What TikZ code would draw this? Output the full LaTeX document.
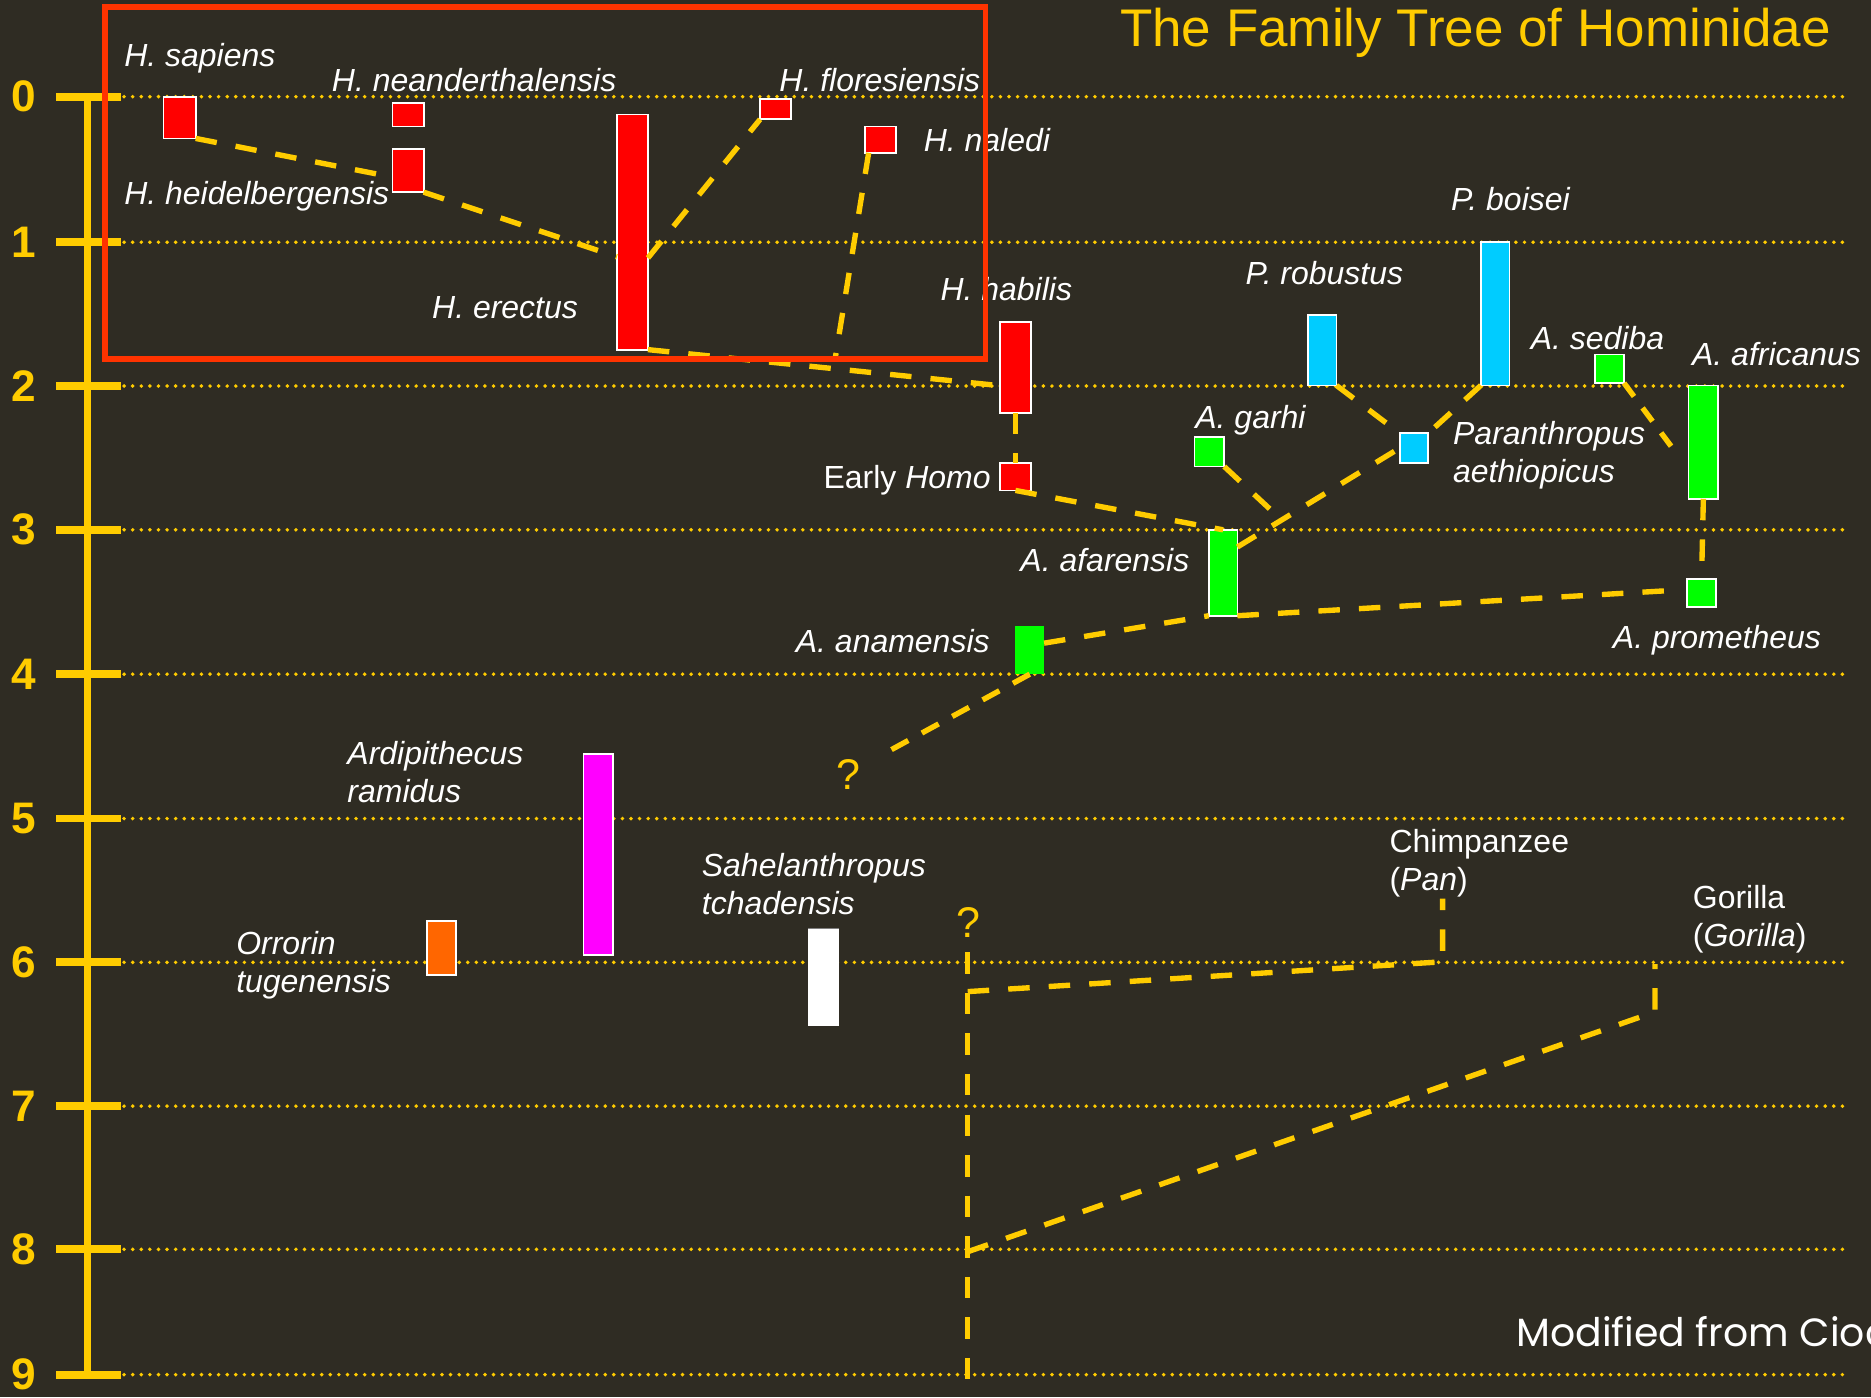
\documentclass[tikz,border=0pt]{standalone}
\usepackage{fontspec}
\setmainfont{Liberation Sans}
\newfontfamily\poppins{Poppins}
\usetikzlibrary{calc}
\definecolor{bg}{RGB}{47,44,35}
\definecolor{hyellow}{RGB}{255,204,0}
\definecolor{hred}{RGB}{255,0,0}
\definecolor{boxred}{RGB}{255,51,0}
\definecolor{hcyan}{RGB}{0,204,255}
\definecolor{hgreen}{RGB}{0,255,0}
\definecolor{hmag}{RGB}{255,0,255}
\definecolor{horange}{RGB}{255,102,0}
\begin{document}
\begin{tikzpicture}[x=1pt,y=-1pt,
  bar/.style={draw=white, line width=1.5pt, inner sep=0pt, outer sep=0pt, anchor=north west},
  lbl/.style={text=white, font=\fontsize{26.8}{32}\selectfont\itshape, inner sep=0pt, anchor=north west, align=left},
  rlbl/.style={text=white, font=\fontsize{26.8}{32}\selectfont, inner sep=0pt, anchor=north west, align=left},
  conn/.style={draw=hyellow, line width=4.5pt, dash pattern=on 18pt off 16pt},
  dotline/.style={draw=hyellow, line width=3.3pt, line cap=round, dash pattern=on 0pt off 7.2pt},
  tickmark/.style={draw=hyellow, line width=6.5pt},
  digit/.style={text=hyellow, font=\fontsize{37}{40}\selectfont\bfseries, inner sep=0pt, anchor=center},
  qmark/.style={text=hyellow, font=\fontsize{36}{40}\selectfont, inner sep=0pt, anchor=center},
]
\useasboundingbox (0,0) rectangle (1568,1171);
\fill[bg] (0,0) rectangle (1568,1171);
\begin{scope}
\clip (0,0) rectangle (1568,1171);

% time axis and grid
\foreach \t/\yy in {0/81,1/203,2/323.5,3/444,4/565,5/686,6/806.5,7/927,8/1047,9/1152} {
  \draw[dotline] (104,\yy) -- (1548,\yy);
  \draw[tickmark] (47,\yy) -- (101,\yy);
  \node[digit] (d\t) at (20,\yy) {\t};
}
\draw[hyellow, line width=6pt] (73.5,81) -- (73.5,1152);

% bars (nodes)
\node[bar, fill=hred, minimum width=27, minimum height=35] (sap) at (137,81) {};
\node[bar, fill=hred, minimum width=26, minimum height=20] (nea) at (329,86) {};
\node[bar, fill=hred, minimum width=26, minimum height=36] (hei) at (329,125) {};
\node[bar, fill=hred, minimum width=26, minimum height=197] (ere) at (517,96) {};
\node[bar, fill=hred, minimum width=26, minimum height=17] (flo) at (637,83) {};
\node[bar, fill=hred, minimum width=26, minimum height=22] (nal) at (725,106) {};
\node[bar, fill=hred, minimum width=26, minimum height=76] (hab) at (838,270) {};
\node[bar, fill=hred, minimum width=26, minimum height=23] (eho) at (838,388) {};
\node[bar, fill=hcyan, minimum width=24, minimum height=59] (rob) at (1096,264) {};
\node[bar, fill=hcyan, minimum width=24, minimum height=120] (boi) at (1241,203) {};
\node[bar, fill=hcyan, minimum width=24, minimum height=25] (aet) at (1173,363) {};
\node[bar, fill=hgreen, minimum width=24, minimum height=24] (sed) at (1337,297) {};
\node[bar, fill=hgreen, minimum width=25, minimum height=95] (afr) at (1415,323) {};
\node[bar, fill=hgreen, minimum width=25, minimum height=25] (gar) at (1001,366) {};
\node[bar, fill=hgreen, minimum width=24, minimum height=72] (afa) at (1013,444) {};
\node[bar, fill=hgreen, minimum width=24, minimum height=24] (pro) at (1414,485) {};
\node[bar, draw=none, fill=hgreen, minimum width=24, minimum height=40] (ana) at (851,525) {};
\node[bar, fill=hmag, minimum width=25, minimum height=168] (ard) at (489,632) {};
\node[bar, fill=horange, minimum width=24, minimum height=45] (orr) at (358,772) {};
\node[bar, draw=none, fill=white, minimum width=26, minimum height=82] (sah) at (677,778) {};
\draw[gray, line width=1pt] (sah.north west) -- (sah.north east);

% junction coordinates
\coordinate (jnal) at (700,300);
\coordinate (jgar) at (1070,432);
\coordinate (jsed) at (1402,376);
\coordinate (jpro) at (1398,495);
\coordinate (jq1) at (742,631);
\coordinate (v0) at (811,798);
\coordinate (vend) at (811,1185);
\coordinate (c1) at (811,831);
\coordinate (c2) at (1209,806);
\coordinate (c3) at (1209,753);
\coordinate (g1) at (811,1049);
\coordinate (g2) at (1387,848);
\coordinate (g3) at (1387,808);

% connectors
\draw[conn] (sap.south east) -- ($(hei.north west)!0.65!(hei.south west)$);
\draw[conn] (hei.south east) -- ($(ere.north west)!0.605!(ere.south west)$);
\draw[conn] ($(ere.north east)!0.61!(ere.south east)$) -- (flo.south west);
\draw[conn] ($(nal.south west)+(3,0)$) -- (jnal);
\draw[conn] (ere.south east) -- ($(hab.north west)!0.7!(hab.south west)$);
\draw[conn] (hab.south) -- (eho.north);
\draw[conn] (eho.south) -- (afa.north);
\draw[conn] (gar.south east) -- (jgar);
\draw[conn] ($(afa.north east)!0.2!(afa.south east)$) -- (aet.west);
\draw[conn] (rob.south east) -- (aet.north west);
\draw[conn] (boi.south west) -- (aet.north east);
\draw[conn, dash pattern=on 14pt off 12pt] (sed.south east) -- (jsed);
\draw[conn] (afr.south) -- (pro.north);
\draw[conn] (afa.south east) -- (jpro);
\draw[conn] ($(ana.north east)!0.35!(ana.south east)$) -- (afa.south west);
\draw[conn, dash pattern=on 16pt off 13pt] (ana.south) -- (jq1);
\draw[conn] (v0) -- (vend);
\draw[conn] (c1) -- (c2) -- (c3);
\draw[conn] (g1) -- (g2) -- (g3);

% question marks
\node[qmark] (q1) at (711,649) {?};
\node[qmark] (q2) at (812,773.5) {?};

% labels
\node[lbl] (lsap) at (104,36.4) {H. sapiens};
\node[lbl] (lnea) at (278,57.4) {H. neanderthalensis};
\node[lbl] (lhei) at (104,151.9) {H. heidelbergensis};
\node[lbl] (lere) at (362,248.4) {H. erectus};
\node[lbl] (lflo) at (653,57.4) {H. floresiensis};
\node[lbl] (lnal) at (774,107.4) {H. naledi};
\node[lbl] (lhab) at (788,232) {H. habilis};
\node[lbl] (lrob) at (1043.6,218.9) {P. robustus};
\node[lbl] (lboi) at (1216,157.2) {P. boisei};
\node[lbl] (lsed) at (1282.7,273.1) {A. sediba};
\node[lbl] (lafr) at (1417.9,286.4) {A. africanus};
\node[lbl] (lgar) at (1001.6,339.6) {A. garhi};
\node[lbl] (laet) at (1217.6,353) {Paranthropus\\aethiopicus};
\node[rlbl] (leho) at (690,389.9) {Early \textit{Homo}};
\node[lbl] (lafa) at (855,459.7) {A. afarensis};
\node[lbl] (lana) at (666.8,526.8) {A. anamensis};
\node[lbl] (lpro) at (1351.5,524) {A. prometheus};
\node[lbl] (lard) at (291,621) {Ardipithecus\\ramidus};
\node[lbl] (lorr) at (197.8,780.4) {Orrorin\\tugenensis};
\node[lbl] (lsah) at (588,714.9) {Sahelanthropus\\tchadensis};
\node[rlbl] (lchi) at (1164.3,694.9) {Chimpanzee\\(\textit{Pan})};
\node[rlbl] (lgor) at (1418.5,742) {Gorilla\\(\textit{Gorilla})};

% highlight box
\draw[boxred, line width=4.5pt] (88,6) rectangle (826,301);

% title and credit
\node[text=hyellow, font=\fontsize{44.4}{50}\selectfont, inner sep=0pt, anchor=base] (title) at (1236.5,39) {The Family Tree of Hominidae};
\node[text=white, font=\poppins\fontsize{33}{40}\selectfont, inner sep=0pt, anchor=base west] (credit) at (1270.6,1128.5) {Modified from Ciochon};
\end{scope}
\end{tikzpicture}
\end{document}
